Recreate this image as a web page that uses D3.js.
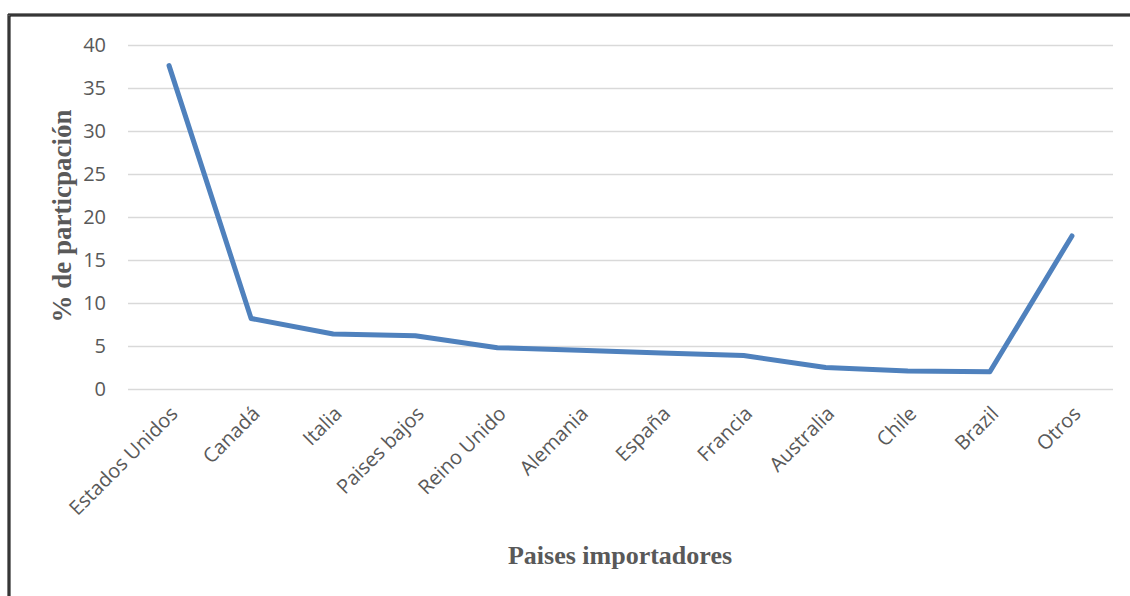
<!DOCTYPE html>
<html><head><meta charset="utf-8">
<script src="https://cdn.jsdelivr.net/npm/d3@7"></script>
<style>body{margin:0;background:#fff}svg{display:block}</style>
</head><body>
<script>
const categories = ["Estados Unidos","Canadá","Italia","Paises bajos","Reino Unido","Alemania","España","Francia","Australia","Chile","Brazil","Otros"];
const values = [37.6, 8.2, 6.4, 6.2, 4.8, 4.5, 4.2, 3.9, 2.5, 2.1, 2.0, 17.8];
const yTicks = [0,5,10,15,20,25,30,35,40];
const yTitle = "% de particpación";
const xTitle = "Paises importadores";

const W = 1130, H = 596;
const svg = d3.select("body").append("svg").attr("width", W).attr("height", H);

// frame
svg.append("line").attr("x1", 8).attr("x2", W).attr("y1", 15).attr("y2", 15).attr("stroke", "#000").attr("stroke-width", 3);
svg.append("line").attr("x1", 9).attr("x2", 9).attr("y1", 14).attr("y2", H).attr("stroke", "#000").attr("stroke-width", 3);
svg.append("line").attr("x1", 8).attr("x2", W).attr("y1", 15).attr("y2", 15).attr("stroke", "#888").attr("stroke-width", 0.8);
svg.append("line").attr("x1", 9).attr("x2", 9).attr("y1", 15).attr("y2", H).attr("stroke", "#888").attr("stroke-width", 0.8);

const x = d3.scaleBand().domain(categories).range([128, 1113]);
const y = d3.scaleLinear().domain([0, 40]).range([389, 45]);

const grid = svg.append("g");
grid.selectAll("line").data(yTicks).join("line")
  .attr("x1", 128).attr("x2", 1113)
  .attr("y1", d => Math.round(y(d)) + 0.5).attr("y2", d => Math.round(y(d)) + 0.5)
  .attr("stroke", "#d9d9d9").attr("stroke-width", 1.5);

const yAxis = svg.append("g").attr("transform", "translate(128,0)")
  .call(d3.axisLeft(y).tickValues(yTicks).tickSize(0).tickPadding(22));
yAxis.select(".domain").remove();
yAxis.attr("font-size", null);
yAxis.selectAll("text").attr("font-family", "'Open Sans', sans-serif").attr("font-size", 20).attr("fill", "#595959");

const xAxis = svg.append("g").attr("transform", "translate(0,389)")
  .call(d3.axisBottom(x).tickSize(0).tickPadding(0));
xAxis.select(".domain").remove();
xAxis.attr("font-size", null);
xAxis.selectAll("text")
  .attr("font-family", "'Open Sans', sans-serif").attr("font-size", 20).attr("fill", "#595959")
  .attr("text-anchor", "end").attr("dy", 0)
  .attr("transform", "translate(10,26) rotate(-45)");

const line = d3.line().x((d, i) => x(categories[i]) + x.bandwidth() / 2).y(d => y(d));
svg.append("path").datum(values).attr("d", line)
  .attr("fill", "none").attr("stroke", "#4f81bd").attr("stroke-width", 5)
  .attr("stroke-linecap", "round").attr("stroke-linejoin", "round");

svg.append("text").attr("transform", "translate(71,216) rotate(-90)")
  .attr("text-anchor", "middle").attr("font-family", "'Liberation Serif', serif")
  .attr("font-weight", "bold").attr("font-size", 27).attr("fill", "#595959").text(yTitle);

svg.append("text").attr("x", 620).attr("y", 564)
  .attr("text-anchor", "middle").attr("font-family", "'Liberation Serif', serif")
  .attr("font-weight", "bold").attr("font-size", 26).attr("fill", "#595959").text(xTitle);
</script>
</body></html>
